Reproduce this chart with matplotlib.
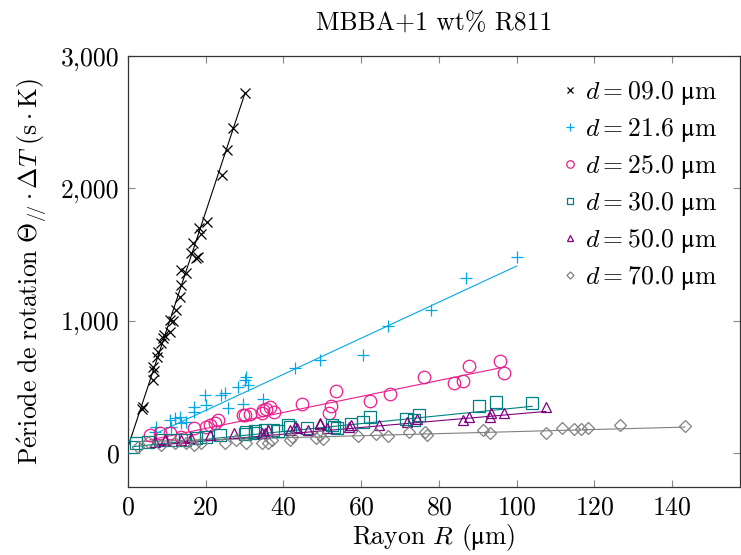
"""
MBBA+1 wt% R811: rotation period vs droplet radius, one series per cell gap d
"""
import matplotlib
matplotlib.use("Agg")
import matplotlib.pyplot as plt
import matplotlib.ticker as mticker
import numpy as np

plt.rcParams['font.family'] = ['cmr10', 'DejaVu Serif']
plt.rcParams['mathtext.fontset'] = 'cm'
plt.rcParams['axes.formatter.use_mathtext'] = True

# ── data (R in µm, period in s·K) ──
labels = ["09.0", "21.6", "25.0", "30.0", "50.0", "70.0"]

r_09 = [3.5, 3.8, 6.4, 6.6, 6.4, 7.5, 7.7, 8.4, 9.0, 9.3, 10.7, 10.7, 11.5, 12.4,
        13.3, 13.7, 13.7, 15.0, 16.3, 16.7, 17.6, 18.0, 18.2, 18.7, 20.4, 24.3,
        25.5, 27.1, 30.1]
p_09 = [330, 350, 552, 620, 652, 728, 766, 830, 867, 890, 917, 1005, 1000, 1081,
        1181, 1270, 1383, 1358, 1510, 1587, 1476, 1484, 1703, 1653, 1748, 2101,
        2290, 2459, 2721]

r_21 = [6.9, 7.3, 10.7, 11.1, 12.0, 13.3, 13.7, 15.0, 17.1, 17.1, 19.7, 20.1,
        24.0, 24.9, 25.7, 28.3, 29.6, 30.0, 30.4, 30.9, 34.7, 42.9, 49.5, 60.5,
        67.0, 78.1, 87.1, 100.0]
p_21 = [161, 199, 249, 199, 262, 274, 224, 237, 312, 350, 438, 363,
        438, 451, 337, 501, 370, 552, 577, 514, 408, 645, 703, 741,
        960, 1081, 1320, 1484]

r_25 = [5.6, 8.2, 10.7, 13.7, 17.1, 20.1, 21.0, 22.3, 23.1, 29.6, 30.1, 31.4,
        34.4, 34.8, 35.6, 36.5, 37.6, 44.7, 51.8, 52.2, 53.5, 62.4, 67.4, 76.2,
        83.9, 86.1, 87.7, 95.7, 96.8]
p_25 = [136, 148, 148, 123, 186, 199, 212, 224, 249, 287, 287, 295,
        300, 325, 330, 350, 307, 370, 305, 358, 471, 393, 443, 577,
        531, 544, 660, 698, 602]

r_30 = [1.3, 2.1, 5.1, 8.6, 11.5, 14.6, 17.5, 20.1, 23.6, 30.0, 30.5, 32.6,
        32.7, 35.2, 37.4, 38.5, 41.2, 41.6, 46.0, 52.4, 53.0, 53.8, 57.5, 60.5,
        62.4, 71.5, 73.6, 74.9, 90.3, 94.6, 104.0]
p_30 = [48, 73, 85, 98, 98, 98, 110, 123, 136, 140, 161, 148,
        169, 174, 174, 165, 212, 199, 186, 212, 200, 191, 216, 231,
        274, 254, 249, 287, 358, 383, 380]

r_50 = [6.9, 9.4, 13.7, 16.3, 21.0, 27.4, 34.4, 35.2, 36.1, 41.7, 42.9, 43.4,
        46.4, 49.3, 49.4, 51.1, 56.9, 57.4, 64.6, 71.8, 74.5, 86.2, 87.8, 93.1,
        93.3, 96.8, 107.5]
p_50 = [85, 98, 98, 111, 136, 148, 153, 148, 174, 174, 199, 186,
        174, 220, 224, 186, 199, 215, 212, 237, 254, 249, 275, 275,
        305, 300, 350]

r_70 = [2.6, 5.1, 8.6, 12.0, 15.0, 17.1, 18.9, 24.9, 27.9, 30.5, 34.4, 36.0,
        37.0, 41.7, 42.1, 48.5, 49.4, 50.2, 59.1, 63.8, 66.8, 72.4, 76.4, 77.0,
        91.4, 93.1, 107.5, 111.8, 114.7, 116.5, 118.4, 126.5, 143.3]
p_70 = [48, 85, 60, 73, 73, 60, 73, 73, 98, 73, 73, 73,
        98, 98, 123, 111, 136, 103, 128, 141, 131, 156, 156, 136,
        174, 153, 153, 186, 178, 178, 186, 212, 204]

# linear fits as drawn in the reference: period = slope * R + intercept
fit_slope = [88.8, 13.64, 6.04, 2.97, 2.55, 0.78]
fit_intercept = [46, 49, 65, 44, 40, 84]

radii = [r_09, r_21, r_25, r_30, r_50, r_70]
periods = [p_09, p_21, p_25, p_30, p_50, p_70]

COLORS = ["black", "#00A8E8", "#EC1C8C", "#008080", "#800080", "#808080"]
MARKERS = ["x", "+", "o", "s", "^", "D"]
SIZES = [7, 9, 9, 8, 7, 6]
FS = 18.5
UM = "\u03bcm"  # upright mu from the fallback font

fig = plt.figure(figsize=(7.41, 5.55), dpi=100)
ax = fig.add_axes([0.1727, 0.1225, 0.8260, 0.7765])

for i, (r, p) in enumerate(zip(radii, periods)):
    r = np.asarray(r)
    p = np.asarray(p)
    xs = np.array([0, r.max()]) if i == 0 else np.array([r.min(), r.max()])
    ax.plot(xs, fit_slope[i] * xs + fit_intercept[i], color=COLORS[i],
            linewidth=0.8, zorder=2)
    ax.plot(r, p, linestyle="none", marker=MARKERS[i], markersize=SIZES[i],
            markerfacecolor="none", markeredgecolor=COLORS[i],
            markeredgewidth=0.9, color=COLORS[i], zorder=3,
            label=rf"$d = {labels[i]}\ \mathrm{{{UM}}}$")

ax.set_xlim(0, 157.5)
ax.set_ylim(-257, 3000)
ax.set_xticks(np.arange(0, 141, 20))
ax.set_yticks([0, 1000, 2000, 3000])
ax.yaxis.set_major_formatter(mticker.FuncFormatter(lambda v, pos: f"{v:,.0f}"))
ax.tick_params(direction="in", top=True, right=True, length=5, width=0.8,
               color="#888888", labelsize=FS, pad=6)
for s in ax.spines.values():
    s.set_color("#333333")
    s.set_linewidth(0.9)

ax.set_xlabel(rf"Rayon $R$ $(\mathrm{{{UM}}})$", fontsize=FS, labelpad=2)
ax.set_ylabel(r"$\mathrm{P\acute{e}riode\ de\ rotation}\ \Theta_{/\!/}\cdot\Delta T\ (\mathrm{s}\cdot\mathrm{K})$",
              fontsize=FS, labelpad=8)
ax.set_title("MBBA+1 wt% R811", fontsize=FS, pad=18)

leg = ax.legend(loc="upper right", frameon=False, fontsize=FS, markerscale=0.6,
                handlelength=0.6, handletextpad=0.3, labelspacing=0.35,
                borderaxespad=0.5)

fig.savefig("out.png", dpi=100, facecolor="white")
plt.close()
